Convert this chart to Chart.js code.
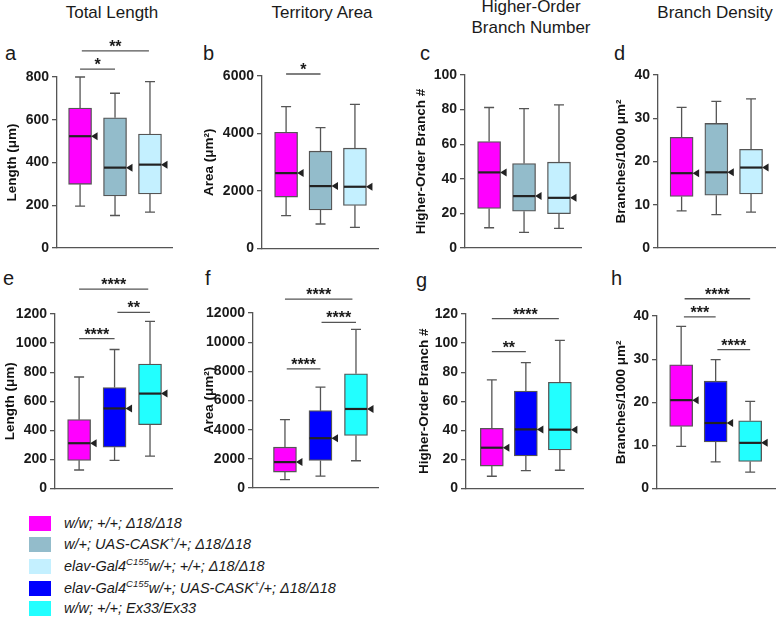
<!DOCTYPE html>
<html>
<head>
<meta charset="utf-8">
<script src="https://cdn.jsdelivr.net/npm/chart.js@4.4.0/dist/chart.umd.min.js"></script>
<style>
body{margin:0;background:#fff;width:777px;height:618px;position:relative;overflow:hidden;font-family:"Liberation Sans",Arial,sans-serif;color:#1a1a1a}
.t{position:absolute;font-size:17px;line-height:21px;text-align:center;width:180px}
.l{position:absolute;font-size:20px;line-height:20px}
canvas{position:absolute}
.sw{position:absolute;left:29px;width:22px;height:15px}
.lt{position:absolute;left:64px;font-style:italic;font-size:14.5px;line-height:15px;white-space:nowrap}
.lt sup{font-size:9.5px;vertical-align:0;position:relative;top:-6px}
</style>
</head>
<body>
<div class="t" style="left:22px;top:2px">Total Length</div>
<div class="t" style="left:232px;top:2px">Territory Area</div>
<div class="t" style="left:441px;top:-4px">Higher-Order<br>Branch Number</div>
<div class="t" style="left:625px;top:2px">Branch Density</div>
<div class="l" style="left:5px;top:43px">a</div>
<div class="l" style="left:203px;top:43px">b</div>
<div class="l" style="left:420px;top:43px">c</div>
<div class="l" style="left:614px;top:43px">d</div>
<div class="l" style="left:3px;top:268px">e</div>
<div class="l" style="left:205px;top:268px">f</div>
<div class="l" style="left:416px;top:270px">g</div>
<div class="l" style="left:611px;top:268px">h</div>
<div id="legend"></div>
<script>
// genotype groups
const topGroups = ['w/w; +/+; Δ18/Δ18', 'w/+; UAS-CASK+/+; Δ18/Δ18', 'elav-Gal4C155w/+; +/+; Δ18/Δ18'];
const bottomGroups = ['w/w; +/+; Δ18/Δ18', 'elav-Gal4C155w/+; UAS-CASK+/+; Δ18/Δ18', 'w/w; +/+; Ex33/Ex33'];
const topColors = ['#FF00FF', '#93BCCB', '#C4F0FF'];
const bottomColors = ['#FF00FF', '#0000FF', '#22FFFF'];

// legend
const legendLabels = [
  'w/w; +/+; Δ18/Δ18',
  'w/+; UAS-CASK<sup>+</sup>/+; Δ18/Δ18',
  'elav-Gal4<sup>C155</sup>w/+; +/+; Δ18/Δ18',
  'elav-Gal4<sup>C155</sup>w/+; UAS-CASK<sup>+</sup>/+; Δ18/Δ18',
  'w/w; +/+; Ex33/Ex33'
];
const legendColors = ['#FF00FF', '#93BCCB', '#C4F0FF', '#0000FF', '#22FFFF'];

// each row: [min, q1, median, q3, max, mean]
const lengthTop = [[196, 298, 523, 655, 800, 523], [152, 244, 376, 609, 724, 376], [168, 253, 390, 533, 778, 390]];
const areaTop = [[1145, 1792, 2624, 4046, 4936, 2624], [855, 1341, 2173, 3387, 4208, 2173], [740, 1503, 2150, 3491, 5017, 2150]];
const branchTop = [[11.7, 22.9, 43.7, 61.5, 81.2, 43.7], [9, 21.3, 30, 48.8, 80.6, 30], [11.3, 19.8, 29, 49.6, 82.7, 29]];
const densityTop = [[8.6, 11.9, 17.3, 25.6, 32.5, 17.3], [7.7, 12.2, 17.5, 28.8, 33.9, 17.5], [8.3, 12.5, 18.6, 22.8, 34.5, 18.6]];
const lengthBottom = [[128, 194, 312, 474, 767, 312], [194, 285, 551, 694, 956, 551], [223, 439, 653, 856, 1150, 653]];
const areaBottom = [[570, 1093, 1776, 2800, 4690, 1776], [820, 1890, 3415, 5305, 6922, 3415], [1867, 3597, 5419, 7832, 10883, 5419]];
const branchBottom = [[8.5, 15.5, 28.1, 41.4, 74.7, 28.1], [12.3, 22.4, 40.7, 67, 86.6, 40.7], [12.6, 26.5, 40.5, 73.1, 101.9, 40.5]];
const densityBottom = [[9.8, 14.4, 20.5, 28.7, 37.6, 20.5], [6.2, 10.8, 15.2, 24.9, 29.9, 15.2], [3.8, 6.3, 10.6, 15.7, 20.2, 10.6]];

// significance: [from group, to group, height, label]
const lengthTopSig = [[0, 1, 837, '*'], [0.05, 1.97, 922, '**']];
const areaTopSig = [[0, 1, 6069, '*']];
const lengthBottomSig = [[0, 1, 1031, '****'], [1.08, 2, 1211, '**'], [0, 1.95, 1371, '****']];
const areaBottomSig = [[0.05, 1, 8174, '****'], [1.03, 2, 11362, '****'], [0, 1.9, 12955, '****']];
const branchBottomSig = [[0, 1, 94.2, '**'], [0, 1.97, 116.8, '****']];
const densityBottomSig = [[0.08, 1, 39.8, '***'], [1.05, 2, 32.2, '****'], [0.1, 2, 44, '****']];

const yMaxes = [800, 6000, 100, 40, 1200, 12000, 120, 40];
const ySteps = [200, 2000, 20, 10, 200, 2000, 20, 10];
const yTitles = ['Length (μm)', 'Area (μm²)', 'Higher-Order Branch #', 'Branches/1000 μm²',
                 'Length (μm)', 'Area (μm²)', 'Higher-Order Branch #', 'Branches/1000 μm²'];

const FONT = '"Liberation Sans", Arial, sans-serif';

const panels = [
  {stats: lengthTop, sig: lengthTopSig, colors: topColors, left: 4, axisX: 57, right: 172, top: 77, bottom: 248, ct: 30, ch: 230, xMin: -0.66, xMax: 2.63},
  {stats: areaTop, sig: areaTopSig, colors: topColors, left: 201, axisX: 262, right: 378, top: 76, bottom: 249, ct: 30, ch: 230, xMin: -0.70, xMax: 2.67},
  {stats: branchTop, sig: [], colors: topColors, left: 413, axisX: 465, right: 581, top: 75, bottom: 248, ct: 30, ch: 230, xMin: -0.69, xMax: 2.63},
  {stats: densityTop, sig: [], colors: topColors, left: 613, axisX: 658, right: 775, top: 75, bottom: 248, ct: 30, ch: 230, xMin: -0.68, xMax: 2.69},
  {stats: lengthBottom, sig: lengthBottomSig, colors: bottomColors, left: 2, axisX: 55, right: 172, top: 314, bottom: 490, ct: 262, ch: 238, xMin: -0.68, xMax: 2.62},
  {stats: areaBottom, sig: areaBottomSig, colors: bottomColors, left: 201, axisX: 253, right: 378, top: 313, bottom: 488, ct: 262, ch: 238, xMin: -0.90, xMax: 2.62},
  {stats: branchBottom, sig: branchBottomSig, colors: bottomColors, left: 416, axisX: 466, right: 583, top: 314, bottom: 489, ct: 262, ch: 238, xMin: -0.76, xMax: 2.68},
  {stats: densityBottom, sig: densityBottomSig, colors: bottomColors, left: 613, axisX: 657, right: 775, top: 316, bottom: 489, ct: 262, ch: 238, xMin: -0.70, xMax: 2.72}
];

function makePanel(p, k) {
  const cv = document.createElement('canvas');
  cv.width = p.right + 2 - p.left;
  cv.height = p.ch;
  cv.style.left = p.left + 'px';
  cv.style.top = p.ct + 'px';
  document.body.appendChild(cv);

  const extras = {
    id: 'boxExtras',
    afterDatasetsDraw(chart) {
      const {ctx, scales: {x, y}} = chart;
      ctx.save();
      p.stats.forEach((s, i) => {
        const cx = x.getPixelForValue(i);
        const py = s.map(v => y.getPixelForValue(v));
        ctx.strokeStyle = '#555';
        ctx.lineWidth = 1.3;
        ctx.beginPath();
        ctx.moveTo(cx, py[3]); ctx.lineTo(cx, py[4]);
        ctx.moveTo(cx - 5, py[4]); ctx.lineTo(cx + 5, py[4]);
        ctx.moveTo(cx, py[1]); ctx.lineTo(cx, py[0]);
        ctx.moveTo(cx - 5, py[0]); ctx.lineTo(cx + 5, py[0]);
        ctx.stroke();
        ctx.strokeStyle = '#222';
        ctx.lineWidth = 2.2;
        ctx.beginPath();
        ctx.moveTo(cx - 11, py[2]); ctx.lineTo(cx + 11, py[2]);
        ctx.stroke();
        ctx.fillStyle = '#222';
        ctx.beginPath();
        ctx.moveTo(cx + 11, py[5]);
        ctx.lineTo(cx + 17.5, py[5] - 4);
        ctx.lineTo(cx + 17.5, py[5] + 4);
        ctx.closePath();
        ctx.fill();
      });
      ctx.strokeStyle = '#555';
      ctx.lineWidth = 1.3;
      ctx.fillStyle = '#1a1a1a';
      ctx.font = 'bold 16px ' + FONT;
      ctx.textAlign = 'center';
      ctx.textBaseline = 'alphabetic';
      p.sig.forEach(([a, b, v, label]) => {
        const x1 = x.getPixelForValue(a), x2 = x.getPixelForValue(b), yy = y.getPixelForValue(v);
        ctx.beginPath();
        ctx.moveTo(x1, yy); ctx.lineTo(x2, yy);
        ctx.stroke();
        ctx.fillText(label, (x1 + x2) / 2, yy + 1);
      });
      ctx.restore();
    }
  };

  new Chart(cv, {
    type: 'bar',
    data: {
      datasets: [{
        data: p.stats.map((s, i) => ({x: i, y: [s[1], s[3]]})),
        backgroundColor: p.colors,
        borderColor: '#555',
        borderWidth: 1.3,
        borderSkipped: false,
        barThickness: 23
      }]
    },
    options: {
      responsive: false,
      animation: false,
      layout: {padding: {top: p.top - p.ct, bottom: p.ct + p.ch - p.bottom, left: 0, right: 2}},
      plugins: {legend: {display: false}, tooltip: {enabled: false}},
      scales: {
        x: {
          type: 'linear', min: p.xMin, max: p.xMax, offset: false, bounds: 'ticks',
          ticks: {display: false},
          grid: {display: false, offset: false},
          border: {display: true, color: '#555', width: 1.3},
          afterFit(s) { s.height = 0; }
        },
        y: {
          min: 0, max: yMaxes[k],
          ticks: {stepSize: ySteps[k], font: {family: FONT, size: 14, weight: 'bold'}, color: '#1a1a1a', padding: 3,
                  callback: v => String(v)},
          grid: {drawOnChartArea: false, drawTicks: true, tickLength: 5, color: '#555', lineWidth: 1.3},
          border: {color: '#555', width: 1.3},
          title: {display: true, text: yTitles[k], font: {family: FONT, size: 13.5, weight: 'bold'}, color: '#111', padding: 0},
          afterFit(s) { s.width = p.axisX - p.left; }
        }
      }
    },
    plugins: [extras]
  });
}

panels.forEach(makePanel);

const legendTops = [516, 537, 559, 581, 601];
const lg = document.getElementById('legend');
legendLabels.forEach((txt, i) => {
  const sw = document.createElement('div');
  sw.className = 'sw';
  sw.style.top = legendTops[i] + 'px';
  sw.style.background = legendColors[i];
  lg.appendChild(sw);
  const t = document.createElement('div');
  t.className = 'lt';
  t.style.top = legendTops[i] + 'px';
  t.innerHTML = txt;
  lg.appendChild(t);
});
</script>
</body>
</html>
